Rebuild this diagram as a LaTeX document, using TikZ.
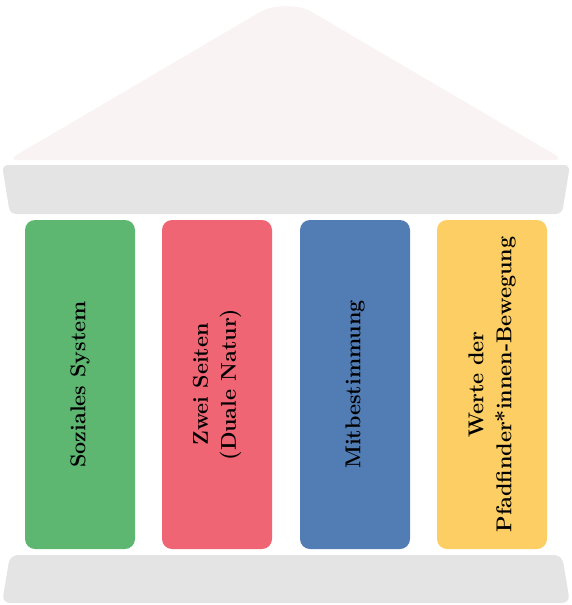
\documentclass[tikz,border=0pt]{standalone}
\usepackage{fontspec}
\definecolor{roofc}{HTML}{F9F3F3}
\definecolor{bandc}{HTML}{E4E4E4}
\definecolor{colgreen}{HTML}{5DB771}
\definecolor{colred}{HTML}{EF6574}
\definecolor{colblue}{HTML}{527CB4}
\definecolor{colyellow}{HTML}{FDCE63}
\tikzset{
  pillar/.style={rounded corners=10pt, rotate=90, minimum width=329pt, minimum height=110pt,
    inner sep=0pt, align=center, text=black,
    font=\bfseries\fontsize{21.5}{28}\selectfont},
  roofshape/.style={fill=roofc},
  bandshape/.style={fill=bandc},
}
\begin{document}
\begin{tikzpicture}[x=1pt,y=-1pt]
\useasboundingbox (0,0) rectangle (572,605);
% roof
\fill[roofshape, rounded corners=10pt] (286,160) -- (8,160) -- (253.1,16.1) .. controls (272.8,4.6) and (299.2,4.6) .. (318.9,16.1) -- (564,160) -- cycle;
% top band (architrave)
\fill[bandshape, rounded corners=6pt] (2,165) -- (570,165) -- (562,214) -- (10,214) -- cycle;
% base
\fill[bandshape, rounded corners=8pt] (10,555) -- (562,555) -- (570,603) -- (2,603) -- cycle;
% pillars
\node[pillar, fill=colgreen] (p1) at (80,384.5) {Soziales System};
\node[pillar, fill=colred] (p2) at (217,384.5) {Zwei Seiten\\(Duale Natur)};
\node[pillar, fill=colblue] (p3) at (355,384.5) {Mitbestimmung};
\node[pillar, fill=colyellow] (p4) at (492,384.5) {Werte der\\Pfadfinder*innen-Bewegung};
\end{tikzpicture}
\end{document}
